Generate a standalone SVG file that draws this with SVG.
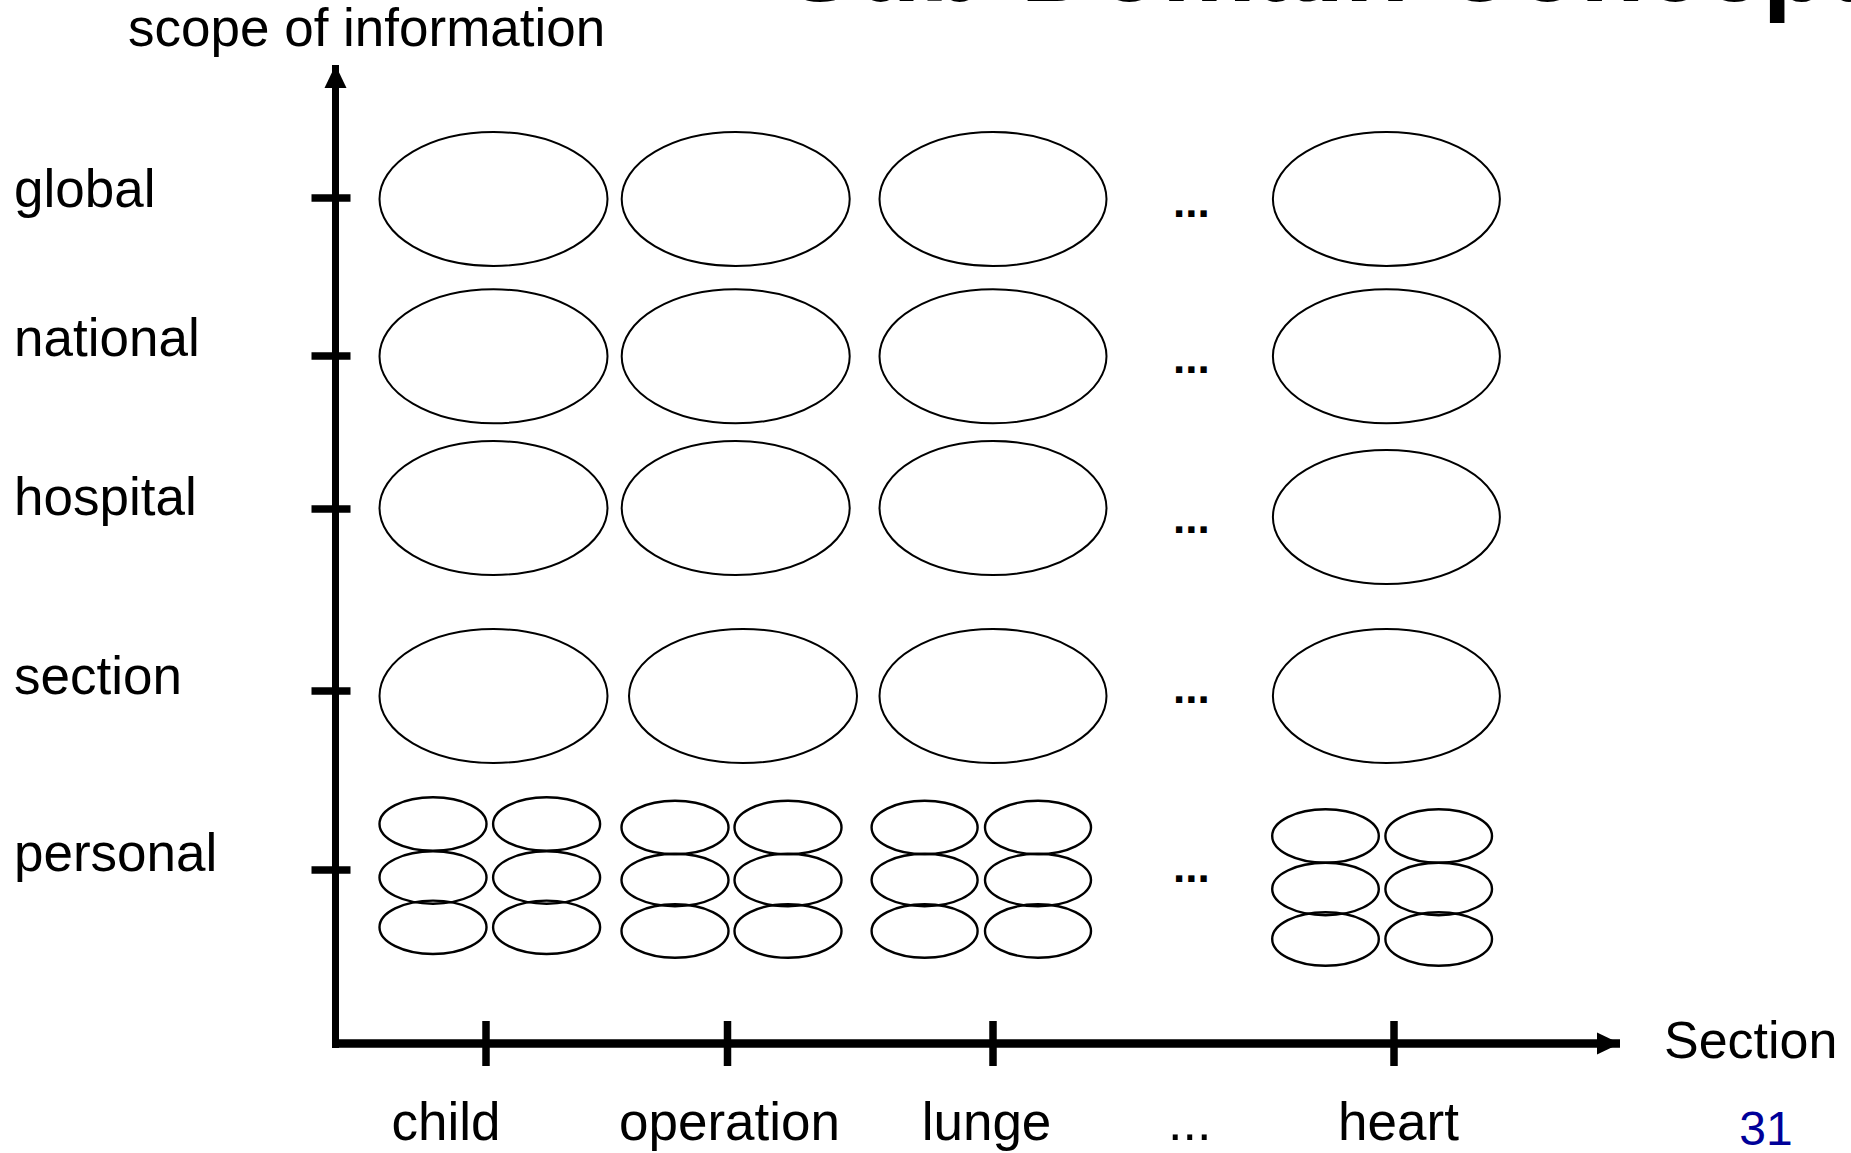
<svg xmlns="http://www.w3.org/2000/svg" width="1851" height="1153" viewBox="0 0 1851 1153">
<style>
text{font-family:"Liberation Sans",Arial,sans-serif;fill:#000}
.lbl{font-size:53px}
.dots{font-size:44px;font-weight:bold}
.big{fill:none;stroke:#000;stroke-width:2}
.sm{fill:none;stroke:#000;stroke-width:2.4}
.axis{stroke:#000;fill:none}
</style>
<defs>
<marker id="arr" markerUnits="userSpaceOnUse" markerWidth="24" markerHeight="24" viewBox="0 0 24 24" refX="23" refY="12" orient="auto">
<path d="M0,1 L23,12 L0,23 Z" fill="#000"/>
</marker>
</defs>
<rect width="1851" height="1153" fill="#fff"/>
<text x="785" y="1" style="font-size:106px;font-weight:bold">Sub-Domain Concept</text>

<g id="connectors">
<line class="axis" x1="335.5" y1="1048" x2="335.5" y2="65" stroke-width="7" marker-end="url(#arr)"/>
<line class="axis" x1="332" y1="1043.5" x2="1620" y2="1043.5" stroke-width="8.5" marker-end="url(#arr)"/>
<g stroke="#000" stroke-width="7.5">
<line x1="311.5" y1="198" x2="350.5" y2="198"/>
<line x1="311.5" y1="356" x2="350.5" y2="356"/>
<line x1="311.5" y1="509" x2="350.5" y2="509"/>
<line x1="311.5" y1="691" x2="350.5" y2="691"/>
<line x1="311.5" y1="870" x2="350.5" y2="870"/>
<line x1="486" y1="1021" x2="486" y2="1066"/>
<line x1="727.5" y1="1021" x2="727.5" y2="1066"/>
<line x1="993" y1="1021" x2="993" y2="1066"/>
<line x1="1394" y1="1021" x2="1394" y2="1066"/>
</g>
</g>

<g id="axis-labels">
<text x="128" y="46" class="lbl">scope of information</text>
<text x="14" y="207" class="lbl">global</text>
<text x="14" y="356" class="lbl">national</text>
<text x="14" y="515" class="lbl">hospital</text>
<text x="14" y="694" class="lbl">section</text>
<text x="14" y="871" class="lbl">personal</text>
<text x="1664" y="1058" class="lbl" style="font-size:52px">Section</text>
<text x="446" y="1140" class="lbl" text-anchor="middle">child</text>
<text x="729.5" y="1140" class="lbl" text-anchor="middle">operation</text>
<text x="986.5" y="1140" class="lbl" text-anchor="middle">lunge</text>
<text x="1168" y="1140" style="font-size:52px">...</text>
<text x="1398.5" y="1140" class="lbl" text-anchor="middle">heart</text>
<text x="1766" y="1145" text-anchor="middle" style="font-size:48px;fill:#000099">31</text>
</g>

<g id="row-global">
<ellipse class="big" cx="493.5" cy="199" rx="114" ry="67"/>
<ellipse class="big" cx="735.7" cy="199" rx="114" ry="67"/>
<ellipse class="big" cx="993" cy="199" rx="113.5" ry="67"/>
<text x="1173" y="217" class="dots">...</text>
<ellipse class="big" cx="1386.4" cy="199" rx="113.5" ry="67"/>
</g>
<g id="row-national">
<ellipse class="big" cx="493.5" cy="356.3" rx="114" ry="67"/>
<ellipse class="big" cx="735.7" cy="356.3" rx="114" ry="67"/>
<ellipse class="big" cx="993" cy="356.3" rx="113.5" ry="67"/>
<text x="1173" y="373" class="dots">...</text>
<ellipse class="big" cx="1386.4" cy="356.3" rx="113.5" ry="67"/>
</g>
<g id="row-hospital">
<ellipse class="big" cx="493.5" cy="508" rx="114" ry="67"/>
<ellipse class="big" cx="735.7" cy="508" rx="114" ry="67"/>
<ellipse class="big" cx="993" cy="508" rx="113.5" ry="67"/>
<text x="1173" y="533" class="dots">...</text>
<ellipse class="big" cx="1386.4" cy="517" rx="113.5" ry="67"/>
</g>
<g id="row-section">
<ellipse class="big" cx="493.5" cy="696" rx="114" ry="67"/>
<ellipse class="big" cx="743" cy="696" rx="114" ry="67"/>
<ellipse class="big" cx="993" cy="696" rx="113.5" ry="67"/>
<text x="1173" y="703" class="dots">...</text>
<ellipse class="big" cx="1386.4" cy="696" rx="113.5" ry="67"/>
</g>
<g id="row-personal">
<g id="personal-child">
<ellipse class="sm" cx="433" cy="824" rx="53.5" ry="26.7"/>
<ellipse class="sm" cx="546.6" cy="824" rx="53.5" ry="26.7"/>
<ellipse class="sm" cx="433" cy="877.5" rx="53.5" ry="26.2"/>
<ellipse class="sm" cx="546.6" cy="877.5" rx="53.5" ry="26.2"/>
<ellipse class="sm" cx="433" cy="927.3" rx="53.5" ry="26.7"/>
<ellipse class="sm" cx="546.6" cy="927.3" rx="53.5" ry="26.7"/>
</g>
<g id="personal-operation">
<ellipse class="sm" cx="675" cy="827.5" rx="53.5" ry="26.7"/>
<ellipse class="sm" cx="788" cy="827.5" rx="53.5" ry="26.7"/>
<ellipse class="sm" cx="675" cy="880" rx="53.5" ry="26.2"/>
<ellipse class="sm" cx="788" cy="880" rx="53.5" ry="26.2"/>
<ellipse class="sm" cx="675" cy="931" rx="53.5" ry="26.7"/>
<ellipse class="sm" cx="788" cy="931" rx="53.5" ry="26.7"/>
</g>
<g id="personal-lunge">
<ellipse class="sm" cx="924.6" cy="827.5" rx="53" ry="26.7"/>
<ellipse class="sm" cx="1038" cy="827.5" rx="53" ry="26.7"/>
<ellipse class="sm" cx="924.6" cy="880" rx="53" ry="26.2"/>
<ellipse class="sm" cx="1038" cy="880" rx="53" ry="26.2"/>
<ellipse class="sm" cx="924.6" cy="931" rx="53" ry="26.7"/>
<ellipse class="sm" cx="1038" cy="931" rx="53" ry="26.7"/>
</g>
<text x="1173" y="882" class="dots">...</text>
<g id="personal-heart">
<ellipse class="sm" cx="1325.5" cy="836" rx="53.3" ry="26.7"/>
<ellipse class="sm" cx="1438.7" cy="836" rx="53.3" ry="26.7"/>
<ellipse class="sm" cx="1325.5" cy="889" rx="53.3" ry="26.2"/>
<ellipse class="sm" cx="1438.7" cy="889" rx="53.3" ry="26.2"/>
<ellipse class="sm" cx="1325.5" cy="939" rx="53.3" ry="26.7"/>
<ellipse class="sm" cx="1438.7" cy="939" rx="53.3" ry="26.7"/>
</g>
</g>
</svg>
